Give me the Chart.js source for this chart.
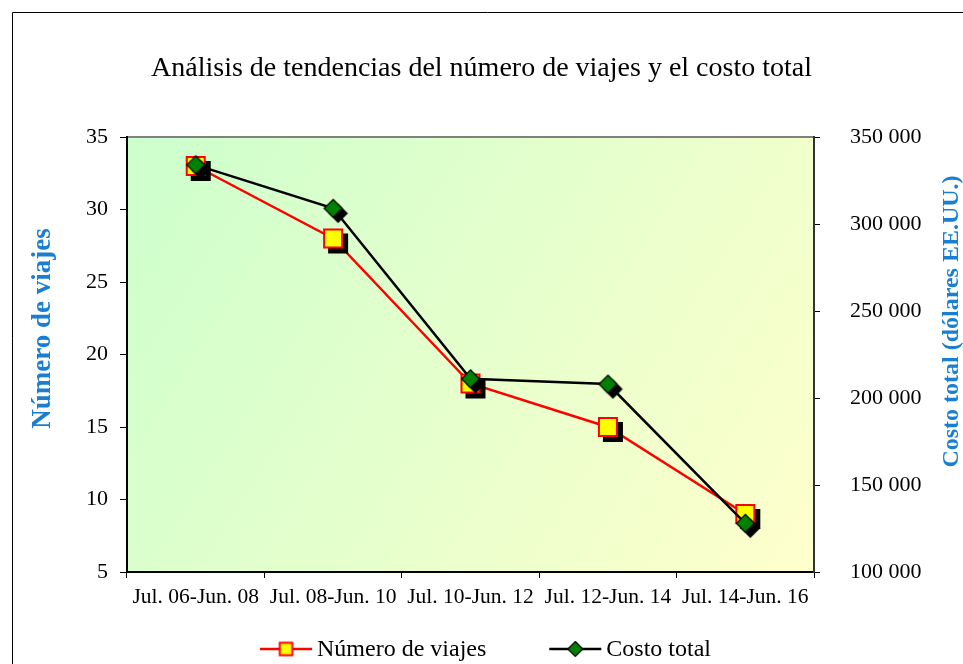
<!DOCTYPE html>
<html>
<head>
<meta charset="utf-8">
<script src="https://cdn.jsdelivr.net/npm/chart.js@4"></script>
<style>
  html, body { margin: 0; padding: 0; background: #fff; }
  #wrap { width: 963px; height: 664px; position: relative; }
</style>
</head>
<body>
<div id="wrap"><canvas id="chart"></canvas></div>
<script>
// data
const periods = ["Jul. 06-Jun. 08", "Jul. 08-Jun. 10", "Jul. 10-Jun. 12", "Jul. 12-Jun. 14", "Jul. 14-Jun. 16"];
const numeroViajes = [33, 28, 18, 15, 9];
const costoTotal = [334000, 309000, 211000, 208000, 128000];
const leftTicks = [5, 10, 15, 20, 25, 30, 35];
const rightTicks = [100000, 150000, 200000, 250000, 300000, 350000];

const chartTitle = "Análisis de tendencias del número de viajes y el costo total";
const leftTitle = "Número de viajes";
const rightTitle = "Costo total (dólares EE.UU.)";
const serif = "'Liberation Serif', 'Times New Roman', serif";

// marker images (with the black drop shadow the original has)
function makeMarker(shape, size, fill, stroke, lineW, shadow) {
  const pad = shadow + lineW + 1;
  const c = document.createElement("canvas");
  c.width = c.height = Math.ceil(size + 2 * pad);
  const ctx = c.getContext("2d");
  const mid = c.width / 2;
  const path = (cx, cy) => {
    ctx.beginPath();
    if (shape === "square") {
      ctx.rect(cx - size / 2, cy - size / 2, size, size);
    } else {
      ctx.moveTo(cx, cy - size / 2);
      ctx.lineTo(cx + size / 2, cy);
      ctx.lineTo(cx, cy + size / 2);
      ctx.lineTo(cx - size / 2, cy);
      ctx.closePath();
    }
  };
  ctx.lineJoin = "miter";
  if (shadow) {
    path(mid + shadow, mid + shadow);
    ctx.fillStyle = "#000"; ctx.fill();
    ctx.lineWidth = lineW; ctx.strokeStyle = "#000"; ctx.stroke();
  }
  path(mid, mid);
  ctx.fillStyle = fill; ctx.fill();
  ctx.lineWidth = lineW; ctx.strokeStyle = stroke; ctx.stroke();
  return c;
}

const squarePt = makeMarker("square", 18, "#ffff00", "#ff0000", 2, 5);
const diamondPt = makeMarker("diamond", 18, "#008000", "#000000", 1.2, 5);
const squareLeg = makeMarker("square", 12.5, "#ffff00", "#ff0000", 2, 0);
const diamondLeg = makeMarker("diamond", 15, "#008000", "#000000", 1.2, 0);

const plotBackground = {
  id: "plotBackground",
  beforeDraw(chart) {
    const { ctx, chartArea: a } = chart;
    ctx.save();
    // outer frame (only left and top edges are in view)
    ctx.strokeStyle = "#000";
    ctx.lineWidth = 1;
    ctx.beginPath();
    ctx.moveTo(12.5, chart.height);
    ctx.lineTo(12.5, 12.5);
    ctx.lineTo(chart.width, 12.5);
    ctx.stroke();
    const g = ctx.createLinearGradient(a.left, a.top, a.right, a.bottom);
    g.addColorStop(0, "#ccffcc");
    g.addColorStop(1, "#ffffcc");
    ctx.fillStyle = g;
    ctx.fillRect(a.left, a.top, a.width, a.height);
    ctx.strokeStyle = "#808080";
    ctx.lineWidth = 2;
    ctx.strokeRect(a.left, a.top, a.width, a.height);
    ctx.restore();
  }
};

const axisTitles = {
  id: "axisTitles",
  afterDraw(chart) {
    const { ctx, chartArea: a } = chart;
    const mid = (a.top + a.bottom) / 2;
    const draw = (text, size, x, y) => {
      ctx.save();
      ctx.font = "bold " + size + "px " + serif;
      ctx.fillStyle = "#1a7fd0";
      ctx.textAlign = "center";
      ctx.textBaseline = "middle";
      ctx.translate(x, y);
      ctx.rotate(-Math.PI / 2);
      ctx.fillText(text, 0, 0);
      ctx.restore();
    };
    draw(leftTitle, 27, a.left - 84, mid - 26);
    draw(rightTitle, 24, a.right + 138, mid - 33);
  }
};

const lineLegend = {
  id: "lineLegend",
  afterDraw(chart) {
    const ctx = chart.ctx;
    const items = chart.data.datasets.map(ds => ({ text: ds.label, color: ds.borderColor, icon: ds.legendIcon }));
    const lineW = 52, gap = 5, spacing = 63, y = 649;
    ctx.save();
    ctx.font = "24px " + serif;
    ctx.textBaseline = "middle";
    ctx.fillStyle = "#000";
    let total = 0;
    items.forEach((it, i) => {
      it.w = ctx.measureText(it.text).width;
      total += lineW + gap + it.w + (i ? spacing : 0);
    });
    let x = (chart.width - total) / 2 + 4;
    items.forEach(it => {
      ctx.strokeStyle = it.color;
      ctx.lineWidth = 2.5;
      ctx.beginPath();
      ctx.moveTo(x, y);
      ctx.lineTo(x + lineW, y);
      ctx.stroke();
      ctx.drawImage(it.icon, x + lineW / 2 - it.icon.width / 2, y - it.icon.height / 2);
      ctx.fillText(it.text, x + lineW + gap, y + 1);
      x += lineW + gap + it.w + spacing;
    });
    ctx.restore();
  }
};

const spaced = v => String(v).replace(/\B(?=(\d{3})+(?!\d))/g, " ");

new Chart(document.getElementById("chart"), {
  type: "line",
  data: {
    labels: periods,
    datasets: [
      {
        label: "Número de viajes",
        data: numeroViajes,
        yAxisID: "y",
        borderColor: "#ff0000",
        borderWidth: 2.5,
        pointStyle: squarePt,
        pointRadius: 10,
        legendIcon: squareLeg,
        tension: 0,
        order: 2
      },
      {
        label: "Costo total",
        data: costoTotal,
        yAxisID: "y1",
        borderColor: "#000000",
        borderWidth: 2.5,
        pointStyle: diamondPt,
        pointRadius: 10,
        legendIcon: diamondLeg,
        tension: 0,
        order: 1
      }
    ]
  },
  options: {
    responsive: true,
    maintainAspectRatio: false,
    animation: false,
    layout: { padding: 0 },
    plugins: {
      legend: { display: false },
      tooltip: { enabled: false },
      title: {
        display: true,
        text: chartTitle,
        color: "#000",
        font: { family: serif, size: 28, weight: "normal" },
        padding: { top: 51.5, bottom: 51.9 }
      }
    },
    scales: {
      x: {
        offset: true,
        grid: { offset: true, drawOnChartArea: false, drawTicks: true, tickLength: 6, color: "#000", lineWidth: 1 },
        border: { display: true, color: "#000", width: 2 },
        ticks: { color: "#000", font: { family: serif, size: 21.5 }, padding: 6, maxRotation: 0, autoSkip: false },
        afterFit: s => { s.height = 92; }
      },
      y: {
        position: "left",
        min: 5,
        max: 35,
        afterBuildTicks: s => { s.ticks = leftTicks.map(v => ({ value: v })); },
        grid: { drawOnChartArea: false, drawTicks: true, tickLength: 7, color: "#000", lineWidth: 1 },
        border: { display: true, color: "#000", width: 2 },
        ticks: { color: "#000", font: { family: serif, size: 22 }, padding: 12 },
        afterFit: s => { s.width = 127; }
      },
      y1: {
        position: "right",
        min: 100000,
        max: 350000,
        afterBuildTicks: s => { s.ticks = rightTicks.map(v => ({ value: v })); },
        grid: { drawOnChartArea: false, drawTicks: true, tickLength: 6, color: "#000", lineWidth: 1 },
        border: { display: true, color: "#333", width: 2 },
        ticks: { color: "#000", font: { family: serif, size: 22 }, padding: 30, callback: v => spaced(v) },
        afterFit: s => { s.width = 149; }
      }
    }
  },
  plugins: [plotBackground, axisTitles, lineLegend]
});
</script>
</body>
</html>
